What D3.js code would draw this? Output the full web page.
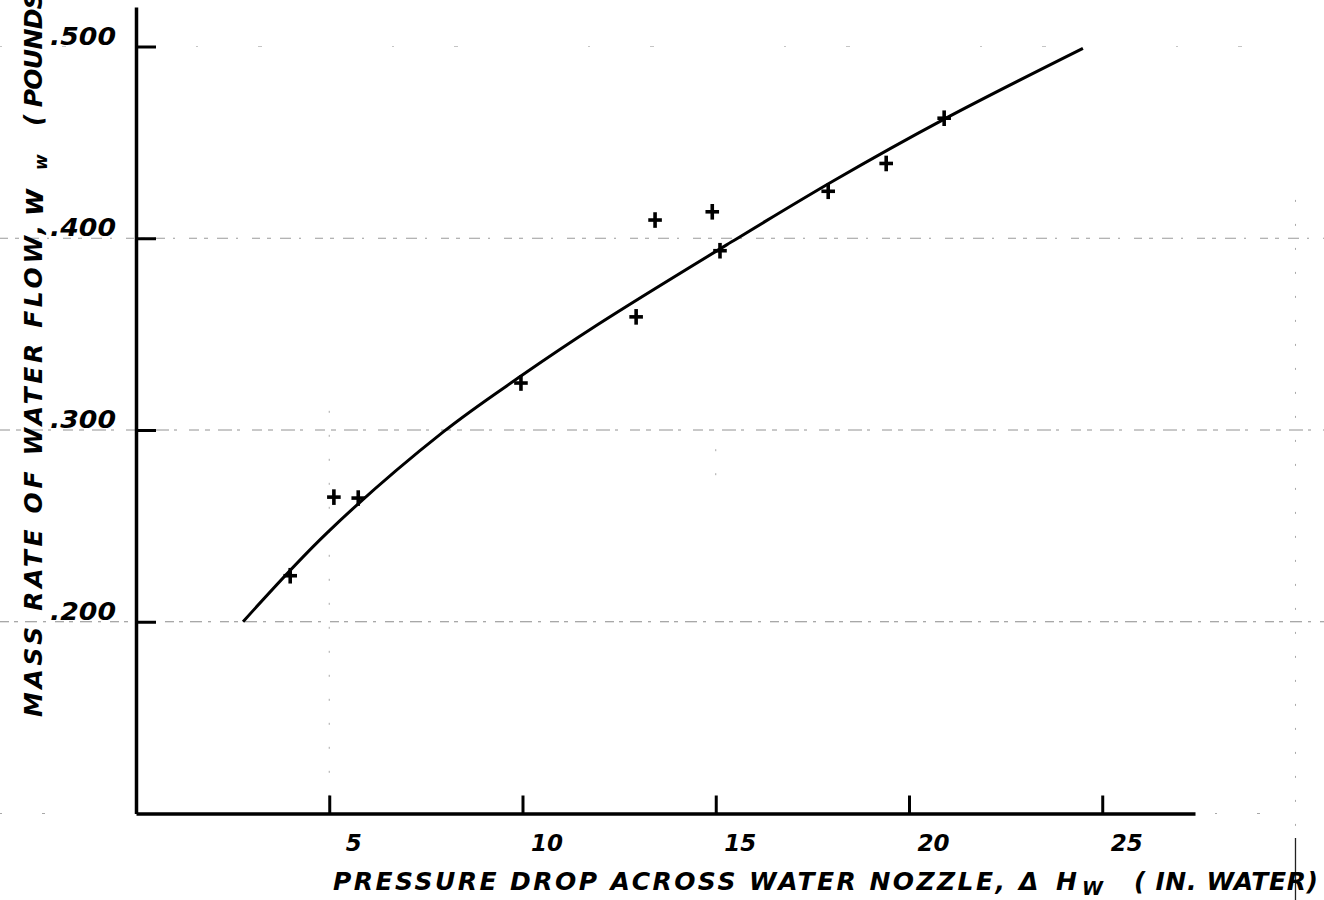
<!DOCTYPE html>
<html>
<head>
<meta charset="utf-8">
<script src="https://cdn.jsdelivr.net/npm/d3@7"></script>
<style>
  html, body { margin: 0; padding: 0; background: #fff; }
  svg { display: block; }
  text { font-family: "DejaVu Sans", sans-serif; font-style: italic; fill: #000; }
</style>
</head>
<body>
<svg id="chart" width="1324" height="900"></svg>
<script>
// Measured flow: pressure drop across the water nozzle (in. water) vs. mass rate (lb/sec)
const pressureDrop = [3.99, 5.12, 5.75, 9.96, 12.94, 13.43, 14.91, 15.11, 17.91, 19.41, 20.91];
const massRate     = [0.224, 0.265, 0.2645, 0.3245, 0.359, 0.4095, 0.4138, 0.3935, 0.4245, 0.439, 0.4626];

// Hand-faired calibration curve, read at these stations
const curveDrop = [2.77, 4.95, 7.95, 9.95, 11.95, 15.4, 18.05, 20.9, 24.5];
const curveRate = [0.200, 0.2465, 0.299, 0.328, 0.355, 0.398, 0.430, 0.462, 0.499];

// Tick values and labels
const xTicks = [5, 10, 15, 20, 25];
const xTickLabels = ["5", "10", "15", "20", "25"];
const yTicks = [0.2, 0.3, 0.4, 0.5];
const yTickLabels = [".200", ".300", ".400", ".500"];

// Faint graph-paper rulings that show through
const gridRows = [0.1, 0.2, 0.3, 0.4, 0.5];
const gridCols = [5, 15, 30];

const svg = d3.select("#chart");
const W = 1324, H = 900;

const x = d3.scaleLinear().domain([0, 27.4]).range([136, 1195]);
const y = d3.scaleLinear().domain([0.1, 0.5206]).range([813.5, 7]);

// --- faint rulings ---
const grid = svg.append("g").attr("stroke", "#6e6e6e").attr("stroke-width", 1).attr("fill", "none");
grid.selectAll("line.row").data(gridRows).join("line")
  .attr("class", "row")
  .attr("x1", 0).attr("x2", W)
  .attr("y1", d => y(d)).attr("y2", d => y(d))
  .attr("stroke-dasharray", (d, i) => ["2,40,3,90", "9,5,4,7,12,6,3,9", "10,6,5,8,14,5,3,12", "8,7,4,9,11,8,2,14", "2,60,4,130"][i])
  .attr("opacity", (d, i) => [0.6, 0.8, 0.75, 0.7, 0.4][i]);
grid.selectAll("line.col").data(gridCols).join("line")
  .attr("class", "col")
  .attr("x1", d => x(d)).attr("x2", d => x(d))
  .attr("y1", (d, i) => [y(0.31), y(0.29), y(0.42)][i])
  .attr("y2", (d, i) => [y(0.105), y(0.27), H][i])
  .attr("stroke-dasharray", "2,22")
  .attr("opacity", 0.6);
// short solid stroke of the right-hand ruling near the unit label
svg.append("line")
  .attr("x1", x(30)).attr("x2", x(30))
  .attr("y1", 838).attr("y2", H)
  .attr("stroke", "#222").attr("stroke-width", 1.3);

// --- axes ---
const xAxis = d3.axisBottom(x)
  .tickValues(xTicks)
  .tickSize(-18)
  .tickSizeOuter(0)
  .tickPadding(21)
  .tickFormat((d, i) => xTickLabels[i]);
const gx = svg.append("g").attr("transform", `translate(0,${y(0.1)})`).call(xAxis);
gx.select(".domain").attr("stroke", "#000").attr("stroke-width", 3.5);
gx.selectAll(".tick line").attr("stroke", "#000").attr("stroke-width", 3);
gx.selectAll(".tick text")
  .attr("dx", 24)
  .attr("font-size", 23)
  .attr("font-family", "DejaVu Sans")
  .attr("font-style", "italic")
  .attr("font-weight", "bold")
  .attr("fill", "#000");

const yAxis = d3.axisLeft(y)
  .tickValues(yTicks)
  .tickSize(-20)
  .tickSizeOuter(0)
  .tickPadding(20)
  .tickFormat((d, i) => yTickLabels[i]);
const gy = svg.append("g").attr("transform", `translate(${x(0)},0)`).call(yAxis);
gy.select(".domain").attr("stroke", "#000").attr("stroke-width", 3.5);
gy.selectAll(".tick line").attr("stroke", "#000").attr("stroke-width", 3);
gy.selectAll(".tick text")
  .attr("dy", "-0.1em")
  .attr("font-size", 24)
  .attr("font-family", "DejaVu Sans")
  .attr("font-style", "italic")
  .attr("font-weight", "bold")
  .attr("fill", "#000")
  .attr("textLength", 66)
  .attr("lengthAdjust", "spacingAndGlyphs");

// --- faired curve ---
const curvePts = curveDrop.map((d, i) => [d, curveRate[i]]);
svg.append("path")
  .datum(curvePts)
  .attr("fill", "none")
  .attr("stroke", "#000")
  .attr("stroke-width", 3)
  .attr("d", d3.line().x(d => x(d[0])).y(d => y(d[1])).curve(d3.curveCatmullRom.alpha(0.5)));

// --- data points as crosses ---
const pts = pressureDrop.map((d, i) => ({ dx: d, w: massRate[i] }));
svg.append("g").attr("stroke", "#000").attr("stroke-width", 3.6).attr("stroke-linecap", "square")
  .selectAll("g").data(pts).join("g")
  .attr("transform", d => `translate(${x(d.dx)},${y(d.w)})`)
  .call(g => {
    g.append("line").attr("x1", -5).attr("x2", 5).attr("y1", 0).attr("y2", 0);
    g.append("line").attr("x1", 0).attr("x2", 0).attr("y1", -6).attr("y2", 6);
  });

// --- x-axis title ---
const xt = svg.append("g").attr("font-size", 25).attr("font-weight", "bold");
xt.append("text").attr("x", 333).attr("y", 890)
  .attr("textLength", 672).attr("lengthAdjust", "spacing")
  .text("PRESSURE DROP ACROSS WATER NOZZLE,");
xt.append("text").attr("x", 1019).attr("y", 890)
  .attr("textLength", 58).attr("lengthAdjust", "spacing")
  .text("Δ H");
xt.append("text").attr("x", 1082).attr("y", 895).attr("font-size", 19)
  .text("W");
xt.append("text").attr("x", 1134).attr("y", 890)
  .attr("textLength", 184).attr("lengthAdjust", "spacing")
  .text("( IN. WATER)");

// --- y-axis title (reads bottom to top) ---
const yt = svg.append("g").attr("font-size", 25).attr("font-weight", "bold");
yt.append("text")
  .attr("transform", "translate(42,717) rotate(-90)")
  .attr("textLength", 492).attr("lengthAdjust", "spacing")
  .text("MASS RATE OF WATER FLOW,");
yt.append("text")
  .attr("transform", "translate(43,216) rotate(-90)")
  .attr("font-size", 30)
  .text("w");
yt.append("text")
  .attr("transform", "translate(47,170) rotate(-90)")
  .attr("font-size", 17)
  .text("w");
yt.append("text")
  .attr("transform", "translate(42,126) rotate(-90)")
  .attr("textLength", 230).attr("lengthAdjust", "spacing")
  .text("( POUNDS / SEC.)");
</script>
</body>
</html>
